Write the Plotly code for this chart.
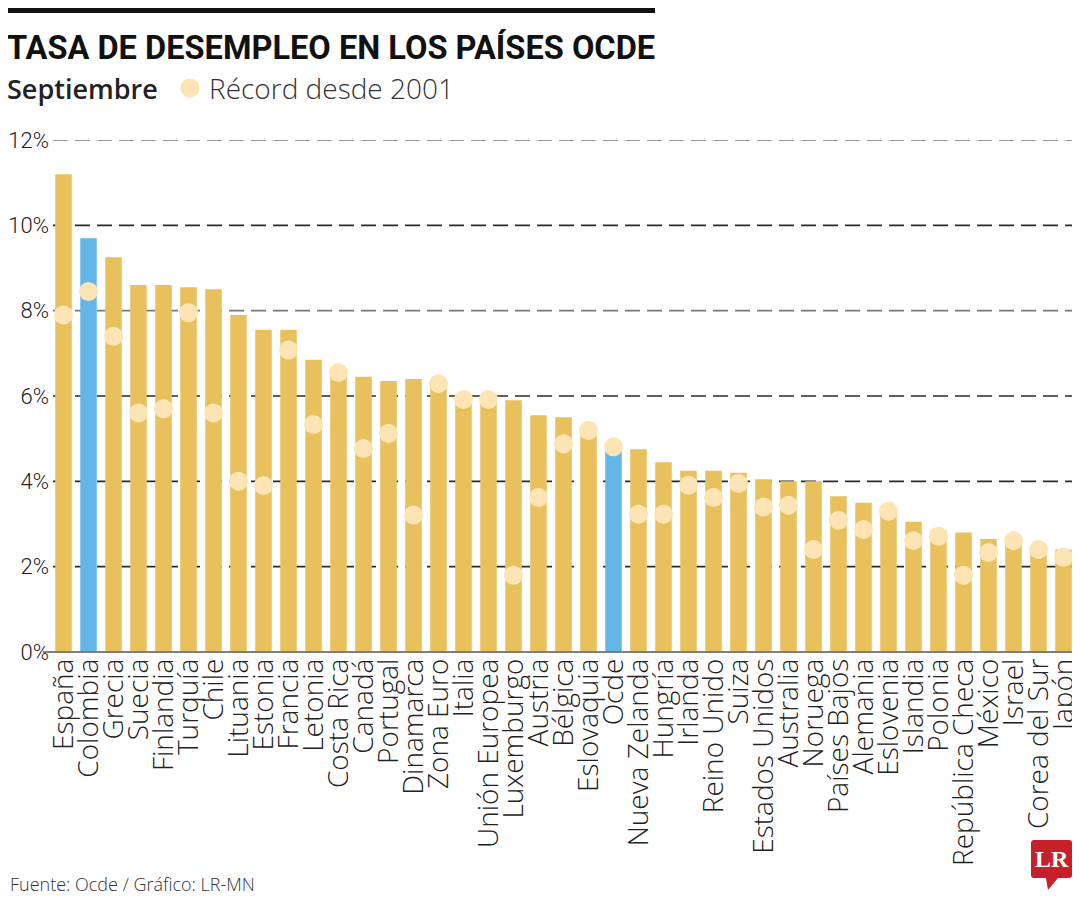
import plotly.graph_objects as go

countries = ["España", "Colombia", "Grecia", "Suecia", "Finlandia", "Turquía", "Chile",
             "Lituania", "Estonia", "Francia", "Letonia", "Costa Rica", "Canadá", "Portugal",
             "Dinamarca", "Zona Euro", "Italia", "Unión Europea", "Luxemburgo", "Austria",
             "Bélgica", "Eslovaquia", "Ocde", "Nueva Zelanda", "Hungría", "Irlanda",
             "Reino Unido", "Suiza", "Estados Unidos", "Australia", "Noruega", "Países Bajos",
             "Alemania", "Eslovenia", "Islandia", "Polonia", "República Checa", "México",
             "Israel", "Corea del Sur", "Japón"]

september = [11.2, 9.7, 9.25, 8.6, 8.6, 8.55, 8.5, 7.9, 7.55, 7.55, 6.85, 6.5, 6.45, 6.35,
             6.4, 6.2, 5.9, 6.0, 5.9, 5.55, 5.5, 5.1, 4.7, 4.75, 4.45, 4.25, 4.25, 4.2, 4.05,
             4.0, 4.0, 3.65, 3.5, 3.25, 3.05, 2.85, 2.8, 2.65, 2.55, 2.3, 2.4]

record = [7.9, 8.45, 7.4, 5.6, 5.7, 7.95, 5.6, 4.0, 3.9, 7.08, 5.33, 6.55, 4.77, 5.12,
          3.21, 6.29, 5.92, 5.92, 1.8, 3.62, 4.88, 5.19, 4.81, 3.23, 3.23, 3.91, 3.62, 3.95,
          3.4, 3.44, 2.4, 3.09, 2.87, 3.3, 2.61, 2.71, 1.8, 2.33, 2.61, 2.4, 2.22]

highlight = ["Colombia", "Ocde"]
y_ticks = [0, 2, 4, 6, 8, 10, 12]

GOLD = "#E8C15C"
BLUE = "#62B7E7"
CREAM = "#FDE4B5"

# page body has an 8px margin: figure is laid out in shifted pixel coordinates
OFF = 8
W, H = 1072, 892
L, R, T, B = 42, 0, 132, 248
PW, PH = W - L - R, H - T - B


def px(x):
    return (x - OFF - L) / PW


def py(y):
    return (H - B - (y - OFF)) / PH


SANS = "Open Sans, Lato, sans-serif"
COND = "Roboto, Liberation Sans, sans-serif"

bar_colors = [BLUE if c in highlight else GOLD for c in countries]

fig = go.Figure()
fig.add_trace(go.Bar(x=countries, y=september, marker=dict(color=bar_colors, line=dict(width=0)),
                     hoverinfo="skip"))
fig.add_trace(go.Scatter(x=countries, y=record, mode="markers",
                         marker=dict(size=19, color=CREAM, line=dict(width=0)),
                         hoverinfo="skip"))

shapes = []
for v in y_ticks[1:]:
    col = "#7a7a7a" if v in (12, 8) else "#2a2a2a"
    shapes.append(dict(type="line", xref="paper", yref="y", x0=px(53), x1=px(1076), y0=v, y1=v,
                       line=dict(color=col, width=1.7, dash="15px,7px"), layer="below"))
shapes.append(dict(type="line", xref="paper", yref="paper", x0=px(43), x1=1, y0=py(652), y1=py(652),
                   line=dict(color="#7f7f7f", width=2), layer="above"))
shapes.append(dict(type="rect", xref="paper", yref="paper", x0=px(7), x1=px(655), y0=py(13), y1=py(6),
                   fillcolor="#111111", line=dict(width=0)))
shapes.append(dict(type="circle", xref="paper", yref="paper", x0=px(180.5), x1=px(199.5),
                   y0=py(97.5), y1=py(78.5), fillcolor=CREAM, line=dict(width=0)))
x0, x1, y0, y1, r = 1031, 1072, 840, 878, 3
path = (f"M {px(x0 + r)},{py(y0)} L {px(x1 - r)},{py(y0)} Q {px(x1)},{py(y0)} {px(x1)},{py(y0 + r)} "
        f"L {px(x1)},{py(y1 - r)} Q {px(x1)},{py(y1)} {px(x1 - r)},{py(y1)} "
        f"L {px(1058)},{py(y1)} L {px(1048)},{py(890)} L {px(1046)},{py(y1)} "
        f"L {px(x0 + r)},{py(y1)} Q {px(x0)},{py(y1)} {px(x0)},{py(y1 - r)} "
        f"L {px(x0)},{py(y0 + r)} Q {px(x0)},{py(y0)} {px(x0 + r)},{py(y0)} Z")
shapes.append(dict(type="path", xref="paper", yref="paper", path=path,
                   fillcolor="#C8202A", line=dict(width=0)))

annotations = [
    dict(text="<b>TASA DE DESEMPLEO EN LOS PAÍSES OCDE</b>", x=px(5), y=py(47), xanchor="left",
         yanchor="middle", showarrow=False, font=dict(family=COND, size=32.6, color="#111111")),
    dict(text="Septiembre", x=px(5), y=py(88), xanchor="left", yanchor="middle", showarrow=False,
         font=dict(family=SANS, size=27, color="#222222", weight=600)),
    dict(text="Récord desde 2001", x=px(207), y=py(88), xanchor="left", yanchor="middle",
         showarrow=False, font=dict(family=SANS, size=28, color="#333333", weight=300)),
    dict(text="Fuente: Ocde / Gráfico: LR-MN", x=px(8), y=py(884), xanchor="left", yanchor="middle",
         showarrow=False, font=dict(family=SANS, size=18, color="#333333", weight=300)),
    dict(text="<b>LR</b>", x=px(1051.5), y=py(859), xanchor="center", yanchor="middle",
         showarrow=False, font=dict(family="Liberation Serif, DejaVu Serif, serif", size=24,
                                    color="#FFFFFF")),
]
for a in annotations:
    a.update(xref="paper", yref="paper")

fig.update_layout(
    width=W, height=H,
    margin=dict(l=L, r=R, t=T, b=B, pad=0, autoexpand=False),
    paper_bgcolor="white", plot_bgcolor="white",
    showlegend=False,
    bargap=0.34,
    shapes=shapes,
    annotations=annotations,
    xaxis=dict(range=[-0.54, 40.66], tickmode="array", tickvals=countries, ticktext=countries,
               tickangle=-90, showgrid=False, showline=False, zeroline=False, automargin=False,
               ticks="", tickfont=dict(family=SANS, size=28, color="#222222", weight=300),
               fixedrange=True),
    yaxis=dict(range=[0, 12], tickvals=y_ticks, ticktext=[f"{v}%" for v in y_ticks],
               showgrid=False, zeroline=False, showline=False, ticks="", automargin=False,
               tickfont=dict(family=COND, size=22, color="#222222", weight=300), ticklabelstandoff=0,
               fixedrange=True),
)

fig.write_html("out.html", config={"displayModeBar": False})
